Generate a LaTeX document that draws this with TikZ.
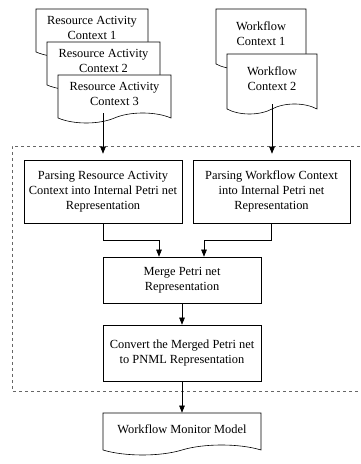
\documentclass[tikz,border=0pt]{standalone}
\usepackage{fontspec}
\setmainfont{Liberation Serif}
\usetikzlibrary{shapes}
\usetikzlibrary{shapes.symbols}
\usetikzlibrary{positioning}
\usetikzlibrary{arrows.meta}
\tikzset{
    docnode/.style = {tape, tape bend top=none, tape bend height=10pt, draw=black, line width=0.6pt, fill=white, align=center, inner sep=0pt},
    procnode/.style = {rectangle, draw=black, line width=0.6pt, fill=white, align=center, inner sep=0pt, minimum width=158pt},
    edgea/.style = {-{Triangle[length=7pt,width=5.5pt]}, line width=0.6pt, black},
    framebox/.style = {gray!80!black, line width=0.7pt, dashed},
    every picture/.style={font issue=\fontsize{12.4}{15}},
    font issue/.style={execute at begin picture={#1\selectfont}}
}

\begin{document}
\begin{tikzpicture}[x=1pt,y=1pt]
%
\path[use as bounding box] (0,0) rectangle (360,464);
% dashed frame around the processing steps
\draw[framebox] (366,318) -- (12,318) -- (12,73) -- (366,73);
%
\node[docnode, minimum width=112pt, minimum height=48pt] at (92,436) (ra1) {Resource Activity\\Context 1};
\node[docnode, minimum width=113pt, minimum height=48pt] at (103.5,403) (ra2) {Resource Activity\\Context 2};
\node[docnode, minimum width=113pt, minimum height=48pt] at (114.5,370) (ra3) {Resource Activity\\Context 3};
%
\node[docnode, minimum width=90pt, minimum height=60pt] at (261,430) (wf1) {Workflow\\Context 1};
\node[docnode, minimum width=90pt, minimum height=60pt] at (272,385) (wf2) {Workflow\\Context 2};
%
\node[procnode, minimum height=63pt] at (103,272.5) (pr1) {Parsing Resource Activity\\Context into Internal Petri net\\Representation};
\node[procnode, minimum width=157pt, minimum height=63pt] at (271.5,272.5) (pr2) {Parsing Workflow Context\\into Internal Petri net\\Representation};
\node[procnode, minimum height=46pt] at (182,184) (mg) {Merge Petri net\\Representation};
\node[procnode, minimum height=56pt] at (182,111) (cv) {Convert the Merged Petri net\\to PNML Representation};
\node[docnode, minimum width=158pt, minimum height=42pt] at (182,35) (wm) {Workflow Monitor Model};
%
\coordinate (j1) at (159,224);
\coordinate (j2) at (204,224);
%
\draw[edgea, shorten >=6pt] (pr1.north |- ra3.south) -- (pr1.north);
\draw[edgea, shorten >=6pt] (wf2.south) -- (wf2.south |- pr2.north);
\draw[edgea] (pr1.south) |- (j1) -- (j1 |- mg.north);
\draw[edgea] (pr2.south) |- (j2) -- (j2 |- mg.north);
\draw[edgea] (mg) -- (cv);
\draw[edgea] (cv) -- (wm);

\end{tikzpicture}
\end{document}
